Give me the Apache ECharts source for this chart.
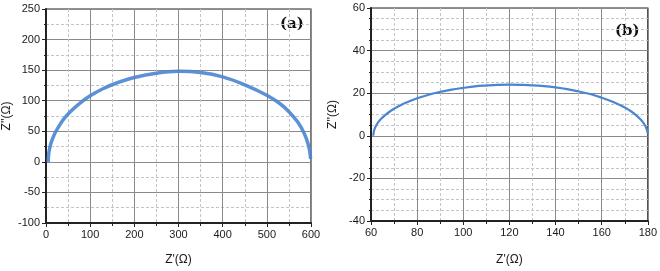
<!DOCTYPE html>
<html>
<head>
<meta charset="utf-8">
<script src="https://cdn.jsdelivr.net/npm/echarts@6/dist/echarts.min.js"></script>
<style>
html,body{margin:0;padding:0;background:#fff;}
#c{width:660px;height:271px;}
</style>
</head>
<body>
<div id="c"></div>
<script>
// Panel (a)
var aX = [5, 6, 8, 11, 15, 21, 30, 40, 55, 75, 100, 130, 160, 200, 250, 300, 350, 400, 450, 500, 530, 550, 570, 585, 594, 598, 599];
var aY = [0, 12, 21, 30, 38, 48, 59, 70, 82, 95, 108, 120, 129, 138, 145, 148, 146, 139, 126, 109, 95, 82, 65, 46, 28, 13, 5];
// Panel (b)
var bX = [61, 61.3, 62, 63, 64.5, 66, 68, 70, 73, 76, 80, 85, 90, 95, 100, 105, 110, 115, 120, 125, 130, 135, 140, 145, 150, 155, 160, 165, 170, 173, 175, 177, 178.5, 179.5, 180];
var bY = [0, 2.4, 4.4, 6.2, 8.1, 9.6, 11.3, 12.7, 14.5, 15.9, 17.6, 19.3, 20.6, 21.7, 22.5, 23.2, 23.6, 23.9, 24.0, 23.9, 23.7, 23.3, 22.7, 21.9, 20.8, 19.6, 17.9, 15.9, 13.3, 11.3, 9.6, 7.5, 5.4, 3.1, 1];
var xName = "Z'(Ω)";
var yName = "Z''(Ω)";
var panelLabels = ['(a)', '(b)'];

function pairs(xs, ys){ return xs.map(function(x,i){ return [x, ys[i]]; }); }

var font = 'Liberation Sans, Arial, sans-serif';
function xAx(gi, min, max, interval, gap){
  return {
    type:'value', gridIndex:gi, min:min, max:max, interval:interval,
    axisLine:{show:true, onZero:false, lineStyle:{color:'#222', width:2}},
    axisTick:{show:true, inside:false, length:4, lineStyle:{color:'#222'}},
    minorTick:{show:true, splitNumber:2, length:3, lineStyle:{color:'#222'}},
    splitLine:{show:true, lineStyle:{color:'#8a8a8a', width:1}},
    minorSplitLine:{show:true, lineStyle:{color:'#c4c4c4', width:1, type:[3,2]}},
    axisLabel:{color:'#1a1a1a', fontSize:11, fontFamily:font, margin:6},
    name:xName, nameLocation:'middle', nameGap:gap,
    nameTextStyle:{color:'#1a1a1a', fontSize:12, fontFamily:font}
  };
}
function yAx(gi, min, max, interval, minorSplit, gap){
  return {
    type:'value', gridIndex:gi, min:min, max:max, interval:interval,
    axisLine:{show:true, onZero:false, lineStyle:{color:'#222', width:2}},
    axisTick:{show:true, inside:false, length:4, lineStyle:{color:'#222'}},
    minorTick:{show:true, splitNumber:minorSplit, length:2, lineStyle:{color:'#222'}},
    splitLine:{show:true, lineStyle:{color:'#8a8a8a', width:1}},
    minorSplitLine:{show:true, lineStyle:{color:'#c4c4c4', width:1, type:[3,2]}},
    axisLabel:{color:'#1a1a1a', fontSize:11, fontFamily:font, margin:6},
    name:yName, nameLocation:'middle', nameGap:gap, nameRotate:90,
    nameTextStyle:{color:'#1a1a1a', fontSize:12, fontFamily:font}
  };
}

var chart = echarts.init(document.getElementById('c'), null, {renderer:'canvas'});
chart.setOption({
  animation:false,
  backgroundColor:'#fff',
  grid:[
    {left:41, top:9, width:270, height:218, show:true, borderColor:'#222', borderWidth:1.2, backgroundColor:'transparent'},
    {left:371, top:8, width:277, height:222, show:true, borderColor:'#222', borderWidth:1.2, backgroundColor:'transparent'}
  ],
  xAxis:[ xAx(0, 0, 600, 100, 31), xAx(1, 60, 180, 20, 33) ],
  yAxis:[ yAx(0, -100, 250, 50, 2, 33), yAx(1, -40, 60, 20, 4, 32) ],
  series:[
    {type:'line', xAxisIndex:0, yAxisIndex:0, data:pairs(aX,aY), smooth:0.4, showSymbol:false,
     lineStyle:{color:'#4a86d0', width:3.5, opacity:0.9}},
    {type:'line', xAxisIndex:1, yAxisIndex:1, data:pairs(bX,bY), smooth:0.4, showSymbol:false,
     lineStyle:{color:'#4a86d0', width:2.2}}
  ],
  graphic:[
    {type:'text', left:280, top:17, style:{text:panelLabels[0], font:'bold 15px "DejaVu Serif", "Liberation Serif", serif', fill:'#111'}},
    {type:'text', left:615, top:24, style:{text:panelLabels[1], font:'bold 15px "DejaVu Serif", "Liberation Serif", serif', fill:'#111'}}
  ]
});
</script>
</body>
</html>
